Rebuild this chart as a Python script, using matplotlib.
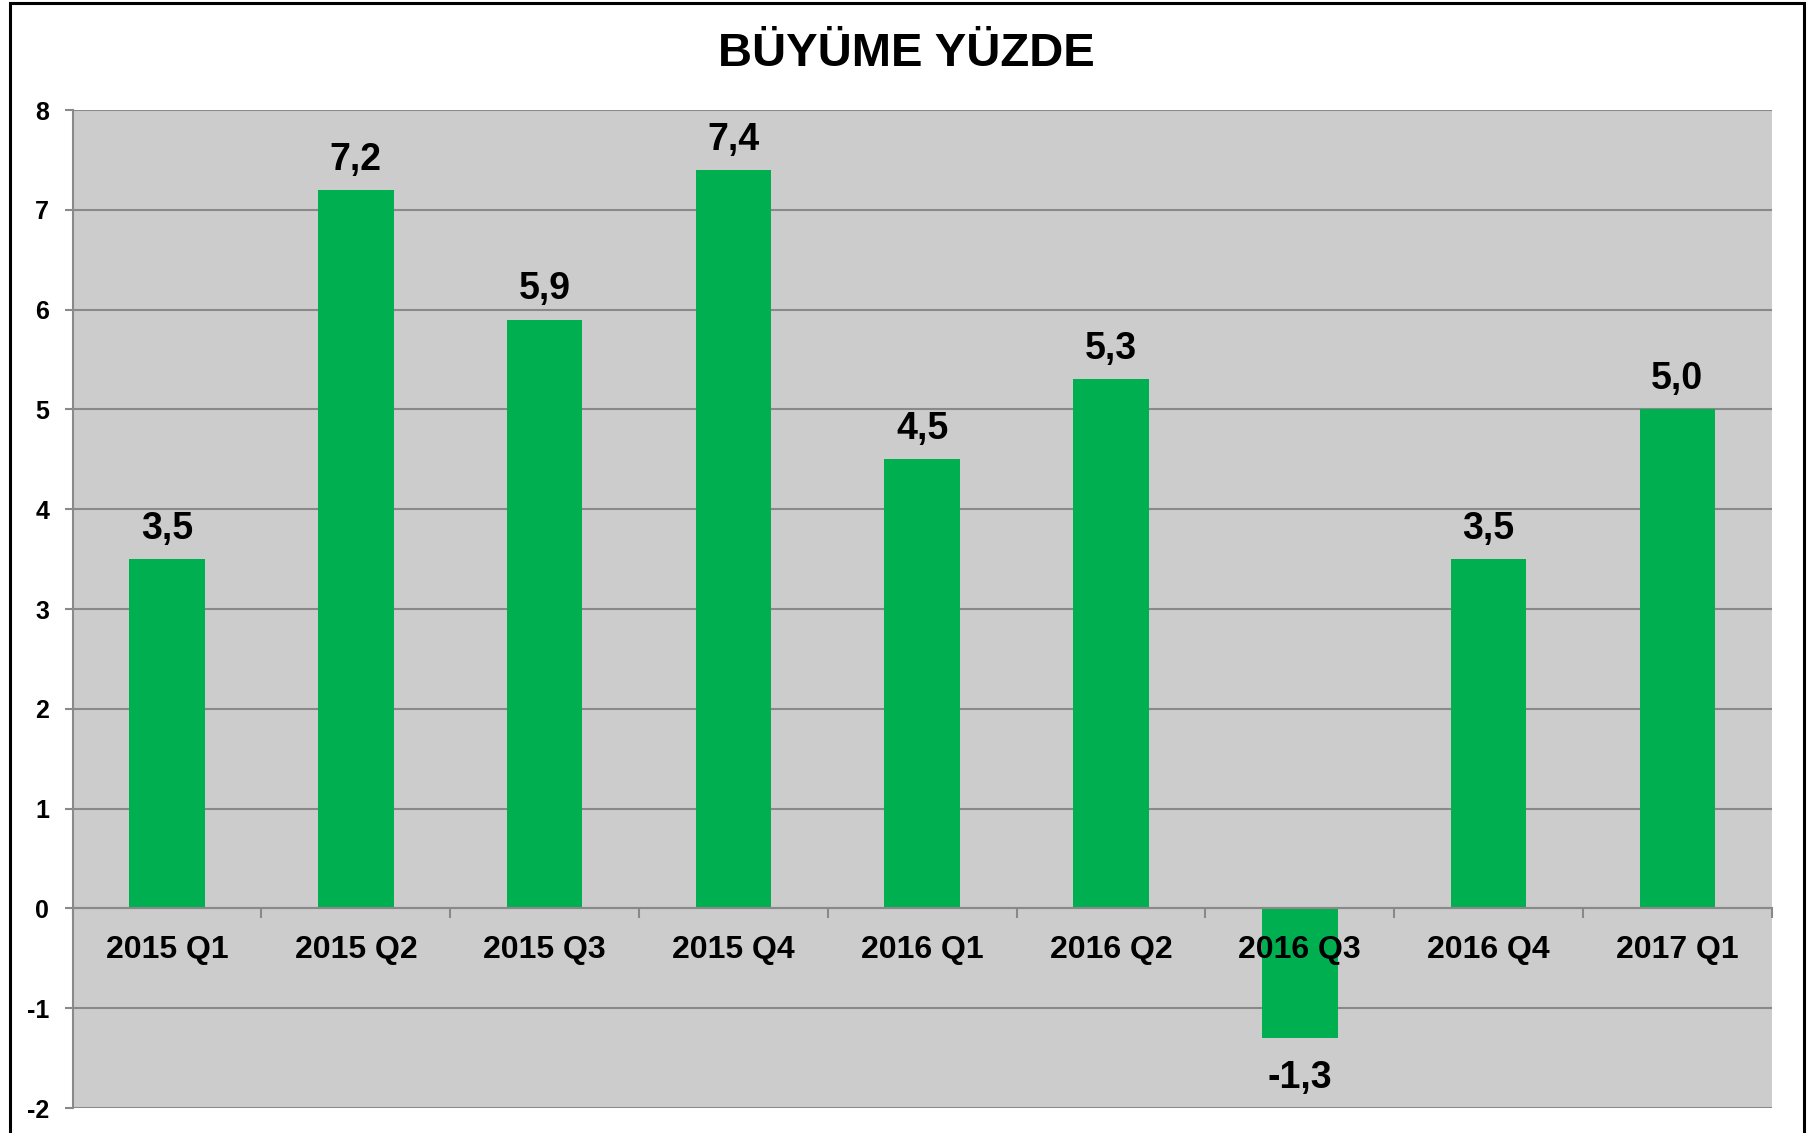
import matplotlib
matplotlib.use("Agg")
import matplotlib.pyplot as plt
from matplotlib.patches import Rectangle
from matplotlib.ticker import FixedLocator

# --- data ---
QUARTERS = ["2015 Q1", "2015 Q2", "2015 Q3", "2015 Q4", "2016 Q1",
            "2016 Q2", "2016 Q3", "2016 Q4", "2017 Q1"]
GROWTH = [3.5, 7.2, 5.9, 7.4, 4.5, 5.3, -1.3, 3.5, 5.0]
Y_TICKS = list(range(-2, 9))

# --- style ---
BAR_COLOR = "#00B050"
PLOT_BG = "#CCCCCC"
GRID_COLOR = "#898989"
FONT = "Liberation Sans"

plt.rcParams["font.family"] = [FONT, "DejaVu Sans"]

fig = plt.figure(figsize=(18.12, 11.33), dpi=100)
ax = fig.add_axes([72.7 / 1812, 1 - 1108 / 1133, (1771.7 - 72.7) / 1812, (1108 - 110) / 1133])
ax.set_facecolor(PLOT_BG)

x = list(range(len(QUARTERS)))
bars = ax.bar(x, GROWTH, width=0.4, color=BAR_COLOR, zorder=3)

ax.set_xlim(-0.5, len(QUARTERS) - 0.5)
ax.set_ylim(-2, 8)

# gridlines
ax.set_yticks(Y_TICKS)
ax.yaxis.grid(True, color=GRID_COLOR, linewidth=1.5, zorder=1)
ax.set_axisbelow(True)
ax.set_yticklabels([str(t) for t in Y_TICKS], fontsize=18, fontweight="bold")
ax.tick_params(axis="y", length=6, width=1.5, color=GRID_COLOR, pad=11)

# x axis sits at zero
for s in ["top", "right"]:
    ax.spines[s].set_visible(False)
ax.spines["left"].set_color(GRID_COLOR)
ax.spines["left"].set_linewidth(1.5)
ax.spines["bottom"].set_position(("data", 0))
ax.spines["bottom"].set_color(GRID_COLOR)
ax.spines["bottom"].set_linewidth(1.5)
ax.spines["bottom"].set_zorder(4)

ax.set_xticks(x)
ax.set_xticklabels(QUARTERS, fontsize=23, fontweight="bold")
ax.tick_params(axis="x", which="major", length=0, pad=19)
ax.xaxis.set_minor_locator(FixedLocator([i + 0.5 for i in range(-1, len(QUARTERS))]))
ax.tick_params(axis="x", which="minor", length=7, width=1.5, color=GRID_COLOR)
ax.xaxis.set_zorder(5)  # category labels sit over the negative bar

# value labels
for rect, v in zip(bars, GROWTH):
    txt = f"{v:.1f}".replace(".", ",")
    cx = rect.get_x() + rect.get_width() / 2
    if v >= 0:
        ax.annotate(txt, (cx, v), xytext=(0, 14.5), textcoords="offset points",
                    ha="center", va="baseline", fontsize=27, fontweight="bold", zorder=5)
    else:
        ax.annotate(txt, (cx, v), xytext=(0, -15.5), textcoords="offset points",
                    ha="center", va="top", fontsize=27, fontweight="bold", zorder=5)

fig.text(0.5, 1 - 66 / 1133, "BÜYÜME YÜZDE", ha="center", va="baseline",
         fontsize=34, fontweight="bold")

# outer frame (bottom edge runs off the image)
fig.patches.append(Rectangle((9.5 / 1812, -0.05), (1803.5 - 9.5) / 1812, 1.05 - 3 / 1133,
                             transform=fig.transFigure, fill=False,
                             edgecolor="black", linewidth=2.2))

fig.savefig("out.png", dpi=100)
